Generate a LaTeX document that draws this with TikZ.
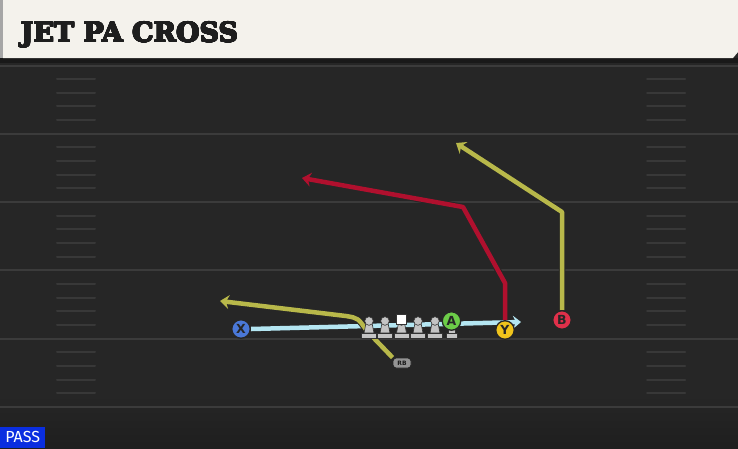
\documentclass[tikz,border=0pt]{standalone}
\usepackage{fontspec}
\setmainfont{DejaVu Sans}
\newfontfamily\titlefont{DejaVu Serif}
\newfontfamily\tagfont{Fira Sans}
\usepackage{contour}
\usepackage{tikz}
\usetikzlibrary{arrows.meta,positioning}
\pgfdeclarelayer{field}
\pgfdeclarelayer{background}
\pgfsetlayers{field,background,main}
\definecolor{fieldgray}{HTML}{262626}
\definecolor{yardgray}{HTML}{3B3B3B}
\definecolor{hashgray}{HTML}{383838}
\definecolor{titlebg}{HTML}{F4F2EC}
\definecolor{titleink}{HTML}{1E1E1E}
\definecolor{motioncyan}{HTML}{B4E6F2}
\definecolor{routeolive}{HTML}{B8B84A}
\definecolor{routered}{HTML}{B0102E}
\definecolor{xblue}{HTML}{4A78D8}
\definecolor{agreen}{HTML}{6CCC48}
\definecolor{yyellow}{HTML}{F0C41C}
\definecolor{bred}{HTML}{E0304A}
\definecolor{passblue}{HTML}{0A2EE0}
\definecolor{blockgray}{HTML}{C4C4C4}
\contourlength{0.55pt}
\contournumber{24}
\tikzset{
    >=Stealth,
    player/.style={
        circle,
        draw=black!85, line width=1.3pt,
        minimum size=18.5pt,
        inner sep=0pt,
        text=black!85,
        font=\bfseries\fontsize{12.5pt}{12.5pt}\selectfont
    },
    rbbox/.style={
        rectangle, rounded corners=3pt,
        draw=black!85, line width=0.9pt,
        fill=black!42,
        minimum width=18pt, minimum height=10pt,
        inner sep=0pt,
        text=black!90,
        font=\bfseries\fontsize{6pt}{6pt}\selectfont
    },
    route/.style={
        line width=4.5pt, line join=round,
        -{Stealth[length=9pt,width=14pt,inset=3pt]},
        preaction={draw=black!85, line width=6.5pt,
            -{Stealth[length=10.5pt,width=16.5pt,inset=3.5pt]}}
    },
    motion/.style={
        draw=motioncyan, line width=4.5pt,
        -{Stealth[length=8pt,width=13pt,inset=3pt]},
        preaction={draw=black!85, line width=6pt,
            -{Stealth[length=9pt,width=14.5pt,inset=3.5pt]}}
    },
    yardline/.style={draw=yardgray, line width=2pt},
    hashmark/.style={draw=hashgray, line width=2pt, line cap=round},
    blocker/.pic={
        \filldraw[fill=blockgray, draw=black!80, line width=0.6pt]
            (-3,2) -- (3,2) -- (5,12) -- (-5,12) -- cycle;
        \filldraw[fill=blockgray, draw=black!80, line width=0.6pt]
            (-7.5,12) rectangle (7.5,17);
        \filldraw[fill=blockgray, draw=black!80, line width=0.6pt]
            (0,0) circle (4.3);
    },
}

\begin{document}
\begin{tikzpicture}[x=1pt, y=-1pt]
\useasboundingbox (0,0) rectangle (738,448);
% field
\begin{pgfonlayer}{field}
\fill[fieldgray] (0,0) rectangle (738,448);
\fill[top color=fieldgray, bottom color=black!88] (0,395) rectangle (738,448);
\fill[black!90] (0,58) rectangle (738,63);
\foreach \yl in {0,...,5}{
    \draw[yardline] (0,65.5+68.3*\yl) -- (738,65.5+68.3*\yl);
}
\foreach \yl in {0,...,4}{
    \foreach \h in {1,...,4}{
        \draw[hashmark] (57,65.5+68.3*\yl+13.66*\h) -- (95,65.5+68.3*\yl+13.66*\h);
        \draw[hashmark] (647,65.5+68.3*\yl+13.66*\h) -- (685,65.5+68.3*\yl+13.66*\h);
    }
}
% title bar
\fill[black!35] (0,0) rectangle (4,58);
\fill[titlebg] (3,0) -- (738,0) -- (738,52) -- (733,58) -- (3,58) -- cycle;
\end{pgfonlayer}
\node[anchor=base west, inner sep=0pt, text=titleink,
    font=\titlefont\bfseries\fontsize{27pt}{27pt}\selectfont] (title) at (20.5,42)
    {\contour{titleink}{JET PA CROSS}};
\node[anchor=south west, fill=passblue, text=white, inner sep=0pt,
    minimum width=45pt, minimum height=21pt,
    font=\tagfont\fontsize{16pt}{16pt}\selectfont] (tag) at (0,448) {PASS};

% line
\foreach \lx in {369,385,418,435}{
    \pic at (\lx,321) {blocker};
}
\pic at (401.5,321) {blocker};
\filldraw[fill=white, draw=black!80, line width=0.6pt] (396.5,314) rectangle (406.5,324);
\filldraw[fill=blockgray, draw=black!80, line width=0.6pt] (446,333) rectangle (457.5,338);
\filldraw[fill=blockgray, draw=black!80, line width=0.6pt] (448.5,328) rectangle (455,333);

% players
\node[player, fill=xblue] (X) at (241,329) {X};
\node[player, fill=agreen] (A) at (451.5,321) {A};
\node[player, fill=yyellow] (Y) at (505,330) {Y};
\node[player, fill=bred] (B) at (562,320) {B};
\node[rbbox] (RB) at (402,363) {RB};
\coordinate (motionend) at (521,322);
\coordinate (bbreak) at (562,212);
\coordinate (btip) at (456,143);
\coordinate (ystem) at (505,283);
\coordinate (ybreak) at (463,207);
\coordinate (ytip) at (302,178);
\coordinate (rbbend) at (367,331);
\coordinate (rbcorner) at (346,316);
\coordinate (rbtip) at (220,301);

% routes
\begin{pgfonlayer}{background}
\draw[motion] (X.east) -- (motionend);
\draw[route, draw=routeolive] (B.north) -- (bbreak) -- (btip);
\draw[route, draw=routered] (Y.north) -- (ystem) -- (ybreak) -- (ytip);
\draw[route, draw=routeolive] (RB.north west) -- (rbbend)
    .. controls (358,318) .. (rbcorner) -- (rbtip);
\end{pgfonlayer}
\end{tikzpicture}
\end{document}
